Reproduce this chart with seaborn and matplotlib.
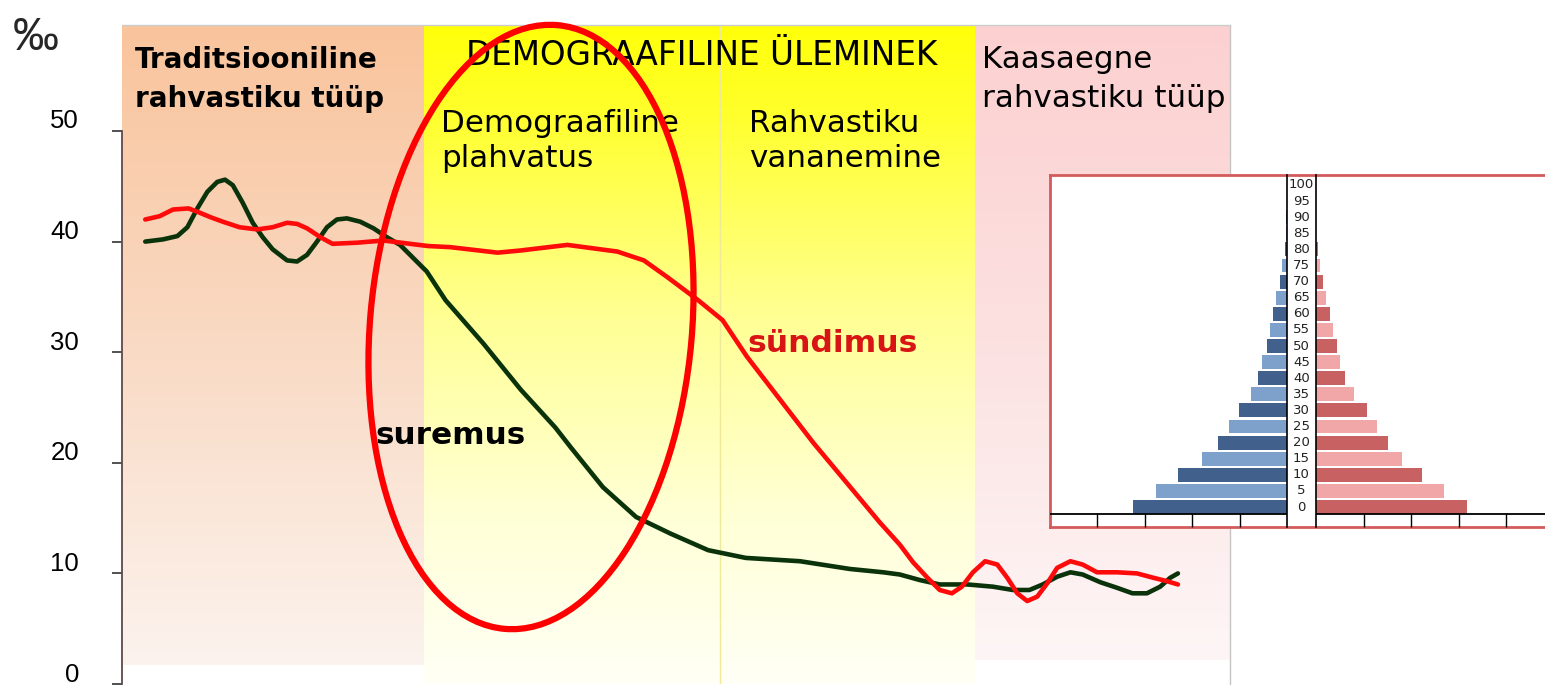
import numpy as np
import pandas as pd
import matplotlib
matplotlib.use("Agg")
import matplotlib.pyplot as plt
import seaborn as sns
from matplotlib.patches import Ellipse
from matplotlib.transforms import ScaledTranslation, blended_transform_factory

# ---------------- data ----------------
# time axis is unitless (0..100 across the whole chart)
time_death = [2.1, 3.7, 5.0, 5.9, 6.8, 7.7, 8.6, 9.3, 10.0, 10.9, 11.8, 12.7, 13.6, 14.9,
              15.8, 16.7, 17.6, 18.5, 19.4, 20.3, 21.5, 22.7, 23.9, 25.1, 26.3, 27.5,
              29.2, 32.6, 36.0, 39.1, 40.5, 43.4, 46.4, 49.5, 52.9, 56.3, 61.2, 65.7,
              68.7, 70.2, 72.0, 73.8, 76.3, 78.6, 80.4, 81.9, 83.1, 84.4, 85.6, 86.7,
              88.3, 89.8, 91.2, 92.5, 93.7, 94.6, 95.3]
death_rate = [40.0, 40.2, 40.5, 41.3, 43.0, 44.5, 45.4, 45.6, 45.1, 43.5, 41.7, 40.4, 39.3, 38.3,
              38.2, 38.8, 40.0, 41.3, 42.0, 42.1, 41.8, 41.2, 40.4, 39.7, 38.5, 37.3,
              34.7, 30.8, 26.6, 23.2, 21.4, 17.8, 15.1, 13.6, 12.1, 11.4, 11.1, 10.4,
              10.1, 9.9, 9.4, 9.0, 9.0, 8.8, 8.5, 8.5, 9.0, 9.7, 10.1, 9.9,
              9.2, 8.7, 8.2, 8.2, 8.8, 9.6, 10.0]

time_birth = [2.1, 3.4, 4.6, 6.0, 6.8, 8.0, 9.1, 10.6, 12.2, 13.6, 14.9, 15.8, 16.7, 17.9,
              19.0, 21.2, 23.6, 26.0, 27.6, 29.6, 33.9, 36.0, 40.2, 44.7, 47.1, 49.2,
              50.4, 52.0, 54.2, 56.4, 59.4, 62.4, 65.4, 68.4, 70.2, 71.4, 72.7, 73.8,
              74.9, 75.8, 76.8, 77.9, 79.0, 79.9, 80.8, 81.7, 82.6, 83.5, 84.4, 85.6,
              86.7, 88.0, 89.8, 91.6, 93.1, 94.3, 95.3]
birth_rate = [42.0, 42.3, 42.9, 43.0, 42.7, 42.2, 41.8, 41.3, 41.1, 41.3, 41.7, 41.6, 41.2, 40.4,
              39.8, 39.9, 40.1, 39.8, 39.6, 39.5, 39.0, 39.2, 39.7, 39.1, 38.3, 36.8,
              35.9, 34.7, 32.9, 29.6, 25.7, 21.8, 18.2, 14.6, 12.6, 11.0, 9.6, 8.5,
              8.2, 8.8, 10.1, 11.1, 10.8, 9.6, 8.2, 7.5, 7.9, 9.1, 10.5, 11.1,
              10.8, 10.1, 10.1, 10.0, 9.6, 9.3, 9.0]

y_ticks = [0, 10, 20, 30, 40, 50]
phase_bounds = [0.0, 27.3, 54.0, 77.0, 100.0]

age_groups = ["100", "95", "90", "85", "80", "75", "70", "65", "60", "55", "50",
              "45", "40", "35", "30", "25", "20", "15", "10", "5", "0"]
male_share = [0.01, 0.02, 0.03, 0.04, 0.08, 0.20, 0.30, 0.48, 0.58, 0.72, 0.86,
              1.04, 1.24, 1.52, 2.02, 2.44, 2.92, 3.60, 4.58, 5.54, 6.50]
female_share = [0.005, 0.01, 0.01, 0.02, 0.08, 0.18, 0.30, 0.44, 0.58, 0.72, 0.90,
                1.00, 1.24, 1.58, 2.16, 2.56, 3.02, 3.64, 4.48, 5.40, 6.36]
pyr_ticks = [2, 4, 6, 8]

# ---------------- style ----------------
sns.set_style("white")
plt.rcParams['font.family'] = ['DejaVu Sans']

W, H = 1545, 687
fig = plt.figure(figsize=(W / 100, H / 100), dpi=100)


def fx(px):
    return px / W


def fy(py):
    return 1 - py / H


Y_TOP = (684 - 25) / 11.06


def dx(px):
    return (px - 122) / 11.08


def dy(py):
    return (684 - py) / 11.06


ax = fig.add_axes([fx(122), fy(684), fx(1230) - fx(122), fy(25) - fy(684)])


def vgrad(stops, n=256):
    pos = np.linspace(0, 1, n)
    arr = np.zeros((n, 1, 3))
    sp = [s[0] for s in stops]
    for c in range(3):
        arr[:, 0, c] = np.interp(pos, sp, [s[1][c] / 255 for s in stops])
    return arr


orange = [(0, (250, 196, 156)), (0.5, (249, 218, 196)), (1, (252, 243, 238))]
yellow = [(0, (255, 255, 10)), (0.12, (255, 255, 40)), (0.45, (255, 255, 150)),
          (0.75, (255, 255, 215)), (1, (255, 255, 246))]
pink = [(0, (252, 208, 208)), (0.5, (252, 225, 225)), (1, (254, 246, 246))]

ax.imshow(vgrad(orange), extent=[phase_bounds[0], phase_bounds[1], dy(665), Y_TOP],
          aspect='auto', origin='upper', zorder=0, interpolation='bilinear')
ax.imshow(vgrad(yellow), extent=[phase_bounds[1], phase_bounds[3], 0, Y_TOP],
          aspect='auto', origin='upper', zorder=0, interpolation='bilinear')
ax.imshow(vgrad(pink), extent=[phase_bounds[3], phase_bounds[4], dy(660), Y_TOP],
          aspect='auto', origin='upper', zorder=0, interpolation='bilinear')
ax.axvline(phase_bounds[2], color='#eeea9a', lw=1, zorder=1)
ax.axvline(phase_bounds[4], color='#c4c4c4', lw=1, zorder=1, clip_on=False)
ax.axhline(Y_TOP, color='#cccccc', lw=1, zorder=1, clip_on=False)

sns.lineplot(x=time_death, y=death_rate, ax=ax, color='#0b330b', linewidth=3.3,
             zorder=3, solid_capstyle='round', solid_joinstyle='round')
sns.lineplot(x=time_birth, y=birth_rate, ax=ax, color='#ff0a0a', linewidth=3.3,
             zorder=4, solid_capstyle='round', solid_joinstyle='round')

ax.set_xlim(0, 100)
ax.set_ylim(0, Y_TOP)
ax.set_xticks([])
ax.set_yticks(y_ticks)
ax.set_xlabel('')
ax.set_ylabel('')
for s in ['top', 'right', 'bottom']:
    ax.spines[s].set_visible(False)
ax.spines['left'].set_bounds(0, 50)
ax.spines['left'].set_color('#5e4a4a')
ax.spines['left'].set_linewidth(1.3)
ax.tick_params(axis='y', length=7, width=1.2, color='#333333', labelcolor='black', pad=24,
               labelsize=18.5, direction='out', left=True)
for lab in ax.get_yticklabels():
    lab.set_fontfamily('Liberation Sans')
    lab.set_transform(lab.get_transform() + ScaledTranslation(0, 0.12, fig.dpi_scale_trans))

# ---------------- texts ----------------
kw = dict(va='baseline', ha='left', color='black', zorder=5)
ax.text(dx(135), dy(68), "Traditsiooniline", fontsize=20, fontweight='bold', **kw)
ax.text(dx(135), dy(107), "rahvastiku tüüp", fontsize=20, fontweight='bold', **kw)
ax.text(dx(702), dy(65), "DEMOGRAAFILINE ÜLEMINEK", fontsize=23.5, va='baseline',
        ha='center', color='black', zorder=5)
ax.text(dx(441), dy(132), "Demograafiline", fontsize=22.3, **kw)
ax.text(dx(441), dy(167), "plahvatus", fontsize=22.3, **kw)
ax.text(dx(749), dy(132), "Rahvastiku", fontsize=22.3, **kw)
ax.text(dx(749), dy(167), "vananemine", fontsize=22.3, **kw)
ax.text(dx(982), dy(68), "Kaasaegne", fontsize=22.3, **kw)
ax.text(dx(982), dy(107), "rahvastiku tüüp", fontsize=22.3, **kw)
ax.text(dx(375), dy(444), "suremus", fontsize=22.4, fontweight='bold', **kw)
ax.text(dx(747), dy(352), "sündimus", fontsize=22.6, fontweight='bold', va='baseline',
        ha='left', color='#d81414', zorder=5)

fig.text(fx(13), fy(50), "‰", fontsize=33, family='Liberation Sans', va='baseline', ha='left')

# ---------------- ellipse ----------------
fig.add_artist(Ellipse((5.31, (H - 327) / 100), width=3.22, height=6.06, angle=-5,
                       transform=fig.dpi_scale_trans, fill=False, edgecolor='#ff0000', lw=4.5))

# ---------------- pyramid inset ----------------
box = fig.add_axes([fx(1050), fy(527), fx(1560) - fx(1050), fy(175) - fy(527)])
box.set_facecolor('white')
box.set_xticks([])
box.set_yticks([])
for s in box.spines.values():
    s.set_color('#d35b5b')
    s.set_linewidth(2)

df = pd.DataFrame({'age': age_groups, 'male': male_share, 'female': female_share})
male_pal = {a: ('#42608c' if int(a) % 10 == 0 else '#7ea1cc') for a in age_groups}
female_pal = {a: ('#c86262' if int(a) % 10 == 0 else '#f1a7a7') for a in age_groups}

hgt = fy(175) - fy(527)
axl = fig.add_axes([fx(1050), fy(527), fx(1287) - fx(1050), hgt])
axr = fig.add_axes([fx(1316), fy(527), fx(1553.5) - fx(1316), hgt])

sns.barplot(data=df, x='male', y='age', hue='age', palette=male_pal, order=age_groups,
            legend=False, ax=axl, orient='h', width=0.86, saturation=1, dodge=False,
            linewidth=0)
sns.barplot(data=df, x='female', y='age', hue='age', palette=female_pal, order=age_groups,
            legend=False, ax=axr, orient='h', width=0.86, saturation=1, dodge=False,
            linewidth=0)

axl.set_xlim(10, 0)
axr.set_xlim(0, 10)
for a, keep in ((axl, 'right'), (axr, 'left')):
    a.patch.set_alpha(0)
    a.set_ylim(21.24, -0.62)
    a.set_xlabel('')
    a.set_ylabel('')
    a.set_yticks([])
    a.set_xticks(pyr_ticks)
    a.tick_params(axis='x', direction='in', length=10, width=1, color='black',
                  labelbottom=False, bottom=True)
    for s in ['top', 'bottom', 'left', 'right']:
        a.spines[s].set_visible(s == keep)
    a.spines[keep].set_color('black')
    a.spines[keep].set_linewidth(1.2)
    a.axhline(20.42, color='black', lw=1.3, zorder=3)

tr = blended_transform_factory(axl.transAxes, axl.transData)
for i, a in enumerate(age_groups):
    axl.text(1 + 14.5 / 237, i, a, transform=tr, ha='center', va='center', fontsize=9.5,
             clip_on=False, color='#222222')

fig.savefig('out.png', dpi=100)
